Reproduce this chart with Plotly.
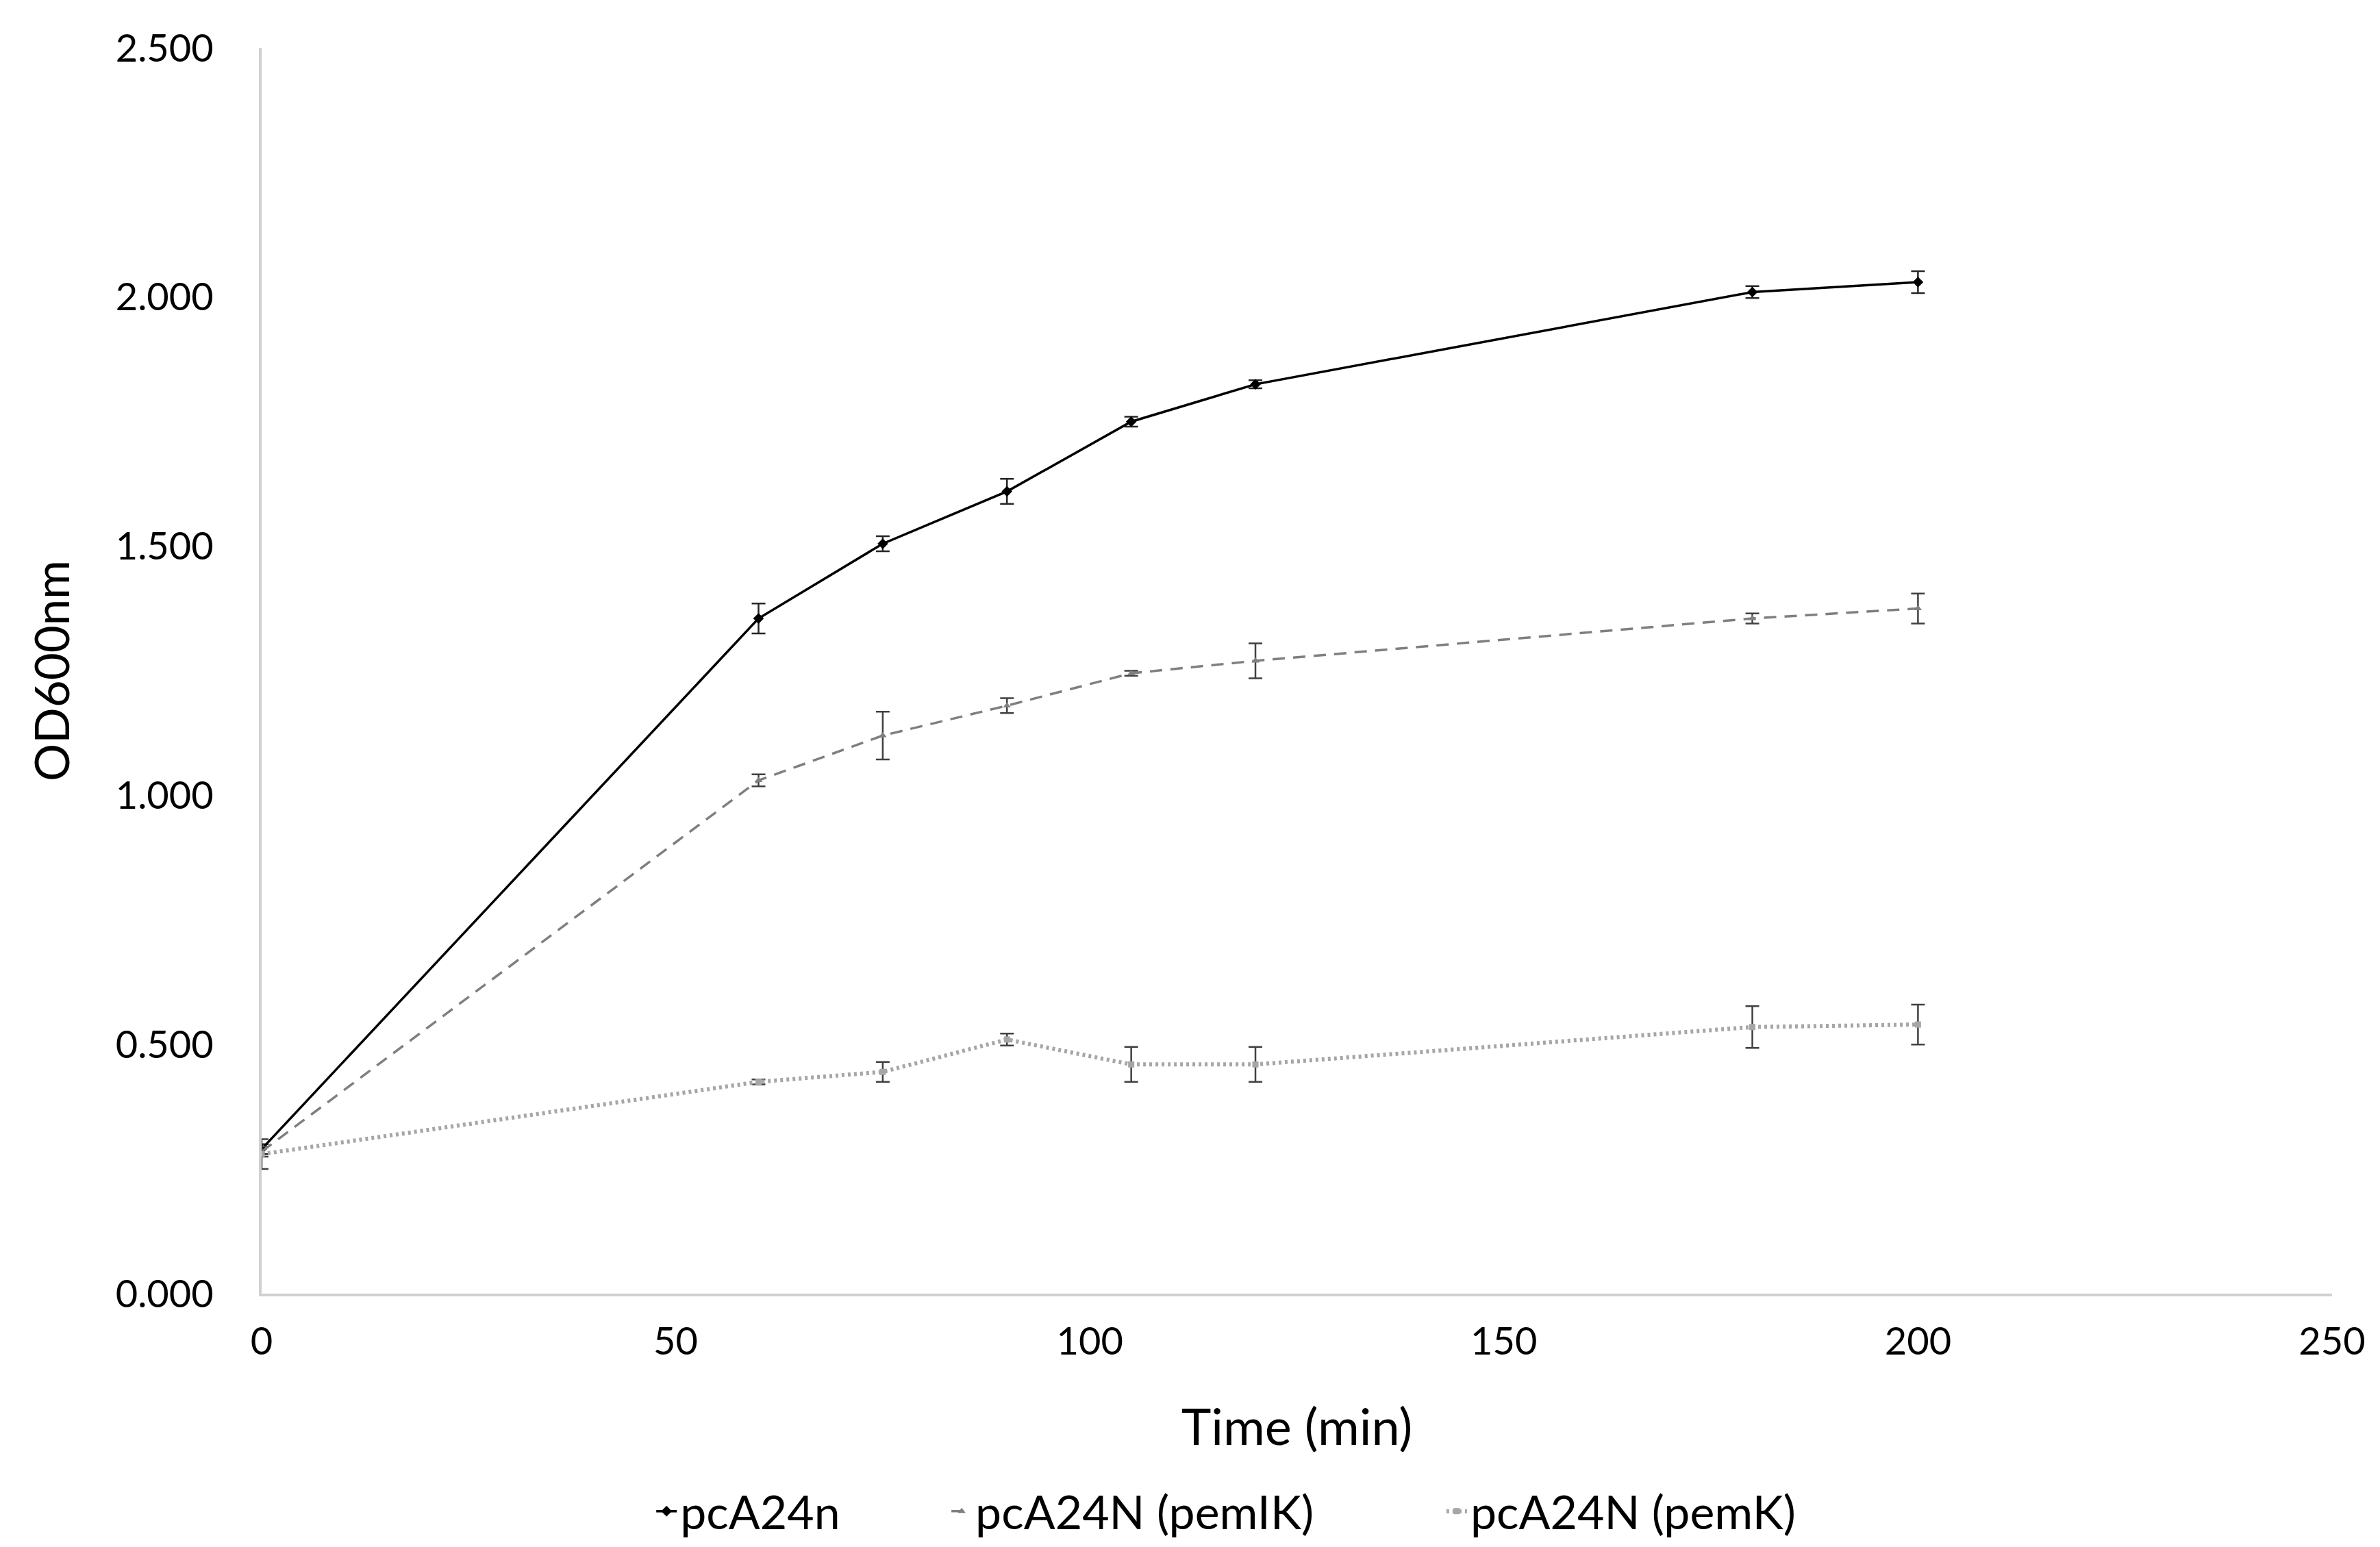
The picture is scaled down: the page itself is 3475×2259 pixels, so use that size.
import plotly.graph_objects as go

time_min = [0, 60, 75, 90, 105, 120, 180, 200]

od_pca24n = [0.290, 1.355, 1.505, 1.610, 1.750, 1.825, 2.010, 2.030]
err_pca24n = [0.010, 0.030, 0.015, 0.025, 0.010, 0.008, 0.012, 0.022]

od_pemik = [0.285, 1.030, 1.120, 1.180, 1.245, 1.270, 1.355, 1.375]
err_pemik = [0.010, 0.012, 0.048, 0.015, 0.005, 0.035, 0.010, 0.030]

od_pemk = [0.280, 0.425, 0.445, 0.510, 0.460, 0.460, 0.535, 0.540]
err_pemk = [0.030, 0.005, 0.020, 0.012, 0.035, 0.035, 0.042, 0.040]

series_names = ["pcA24n", "pcA24N (pemIK)", "pcA24N (pemK)"]

x_ticks = [0, 50, 100, 150, 200, 250]
y_ticks = [0.0, 0.5, 1.0, 1.5, 2.0, 2.5]

FONT = "Lato"

fig = go.Figure()

fig.add_trace(go.Scatter(
    x=time_min, y=od_pca24n, name=series_names[0], mode="lines+markers",
    line=dict(color="#000000", width=3.5),
    marker=dict(symbol="diamond", size=12, color="#000000"),
    error_y=dict(type="data", array=err_pca24n, visible=True,
                 color="#262626", thickness=2.5, width=10),
    legend="legend",
))

fig.add_trace(go.Scatter(
    x=time_min, y=od_pemik, name=series_names[1], mode="lines+markers",
    line=dict(color="#7f7f7f", width=3.5, dash="18px,12px"),
    marker=dict(symbol="triangle-up", size=10, color="#7f7f7f"),
    error_y=dict(type="data", array=err_pemik, visible=True,
                 color="#404040", thickness=2.5, width=10),
    legend="legend2",
))

fig.add_trace(go.Scatter(
    x=time_min, y=od_pemk, name=series_names[2], mode="lines+markers",
    line=dict(color="#a6a6a6", width=6, dash="4px,5px"),
    marker=dict(symbol="square", size=9, color="#a6a6a6"),
    error_y=dict(type="data", array=err_pemk, visible=True,
                 color="#404040", thickness=2.5, width=10),
    legend="legend3",
))

legend_font = dict(family=FONT, size=68, color="#000000")
legend_y = 0.004


def legend_at(x):
    return dict(
        orientation="h", xref="container", x=x, xanchor="left",
        yref="container", y=legend_y, yanchor="bottom",
        font=legend_font, bgcolor="rgba(0,0,0,0)",
    )


fig.update_layout(
    width=3475, height=2259,
    margin=dict(l=374, r=78, t=62, b=378),
    paper_bgcolor="white", plot_bgcolor="white",
    font=dict(family=FONT, size=56, color="#000000"),
    showlegend=True,
    legend=legend_at(0.272),
    legend2=legend_at(0.396),
    legend3=legend_at(0.604),
)

fig.update_xaxes(
    range=[0, 250], tickvals=x_ticks, ticktext=[str(v) for v in x_ticks],
    showgrid=False, zeroline=False,
    showline=True, linecolor="#d0d0d0", linewidth=4,
    ticks="outside", ticklen=18, tickcolor="rgba(0,0,0,0)",
    tickfont=dict(family=FONT, size=56, color="#000000"),
    title=dict(text="Time (min)", font=dict(family=FONT, size=74, color="#000000"),
               standoff=70),
)

fig.update_yaxes(
    range=[0, 2.5], tickvals=y_ticks, tickformat=".3f",
    showgrid=False, zeroline=False,
    showline=True, linecolor="#d0d0d0", linewidth=4,
    ticks="outside", ticklen=55, tickcolor="rgba(0,0,0,0)",
    tickfont=dict(family=FONT, size=56, color="#000000"),
    title=dict(text="OD600nm", font=dict(family=FONT, size=69, color="#000000"),
               standoff=46),
)

fig.write_html("out.html")
